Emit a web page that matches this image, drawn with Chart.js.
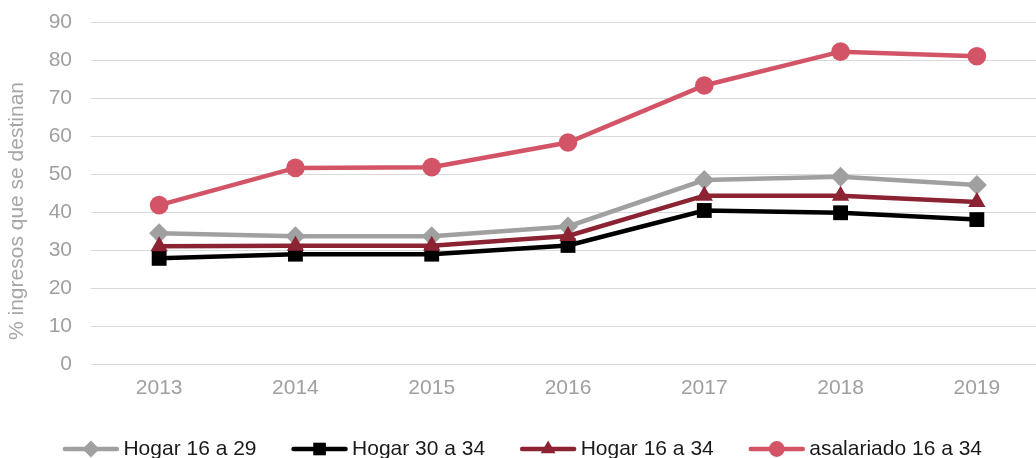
<!DOCTYPE html>
<html>
<head>
<meta charset="utf-8">
<script src="https://cdn.jsdelivr.net/npm/chart.js@4"></script>
<style>
  html, body { margin: 0; padding: 0; background: #ffffff; overflow: hidden; width: 1036px; height: 458px; }
  #wrap { position: relative; width: 1045px; height: 458px; }
</style>
</head>
<body>
<div id="wrap"><canvas id="c"></canvas></div>
<script>
const years = ['2013', '2014', '2015', '2016', '2017', '2018', '2019'];
const hogar1629 = [34.4, 33.6, 33.6, 36.2, 48.4, 49.3, 47.1];
const hogar3034 = [27.8, 28.9, 28.9, 31.2, 40.4, 39.8, 38.0];
const hogar1634 = [31.0, 31.1, 31.1, 33.7, 44.3, 44.3, 42.6];
const asalariado = [41.8, 51.6, 51.8, 58.3, 73.3, 82.2, 81.0];
const seriesNames = ['Hogar 16 a 29', 'Hogar 30 a 34', 'Hogar 16 a 34', 'asalariado 16 a 34'];
const seriesColors = ['#A0A0A0', '#000000', '#8B2333', '#D35466'];
const seriesShapes = ['rectRot', 'rect', 'triangle', 'circle'];
const seriesRadius = [10, 10.5, 10, 9.3];
const yTitle = '% ingresos que se destinan';

const FONT = "'Liberation Sans', Arial, sans-serif";

function drawShape(ctx, shape, x, y, r, color) {
  ctx.save();
  ctx.fillStyle = color;
  ctx.beginPath();
  if (shape === 'circle') {
    ctx.arc(x, y, r, 0, Math.PI * 2);
  } else if (shape === 'rectRot') {
    ctx.moveTo(x - r, y); ctx.lineTo(x, y - r); ctx.lineTo(x + r, y); ctx.lineTo(x, y + r);
  } else if (shape === 'rect') {
    const s = r * Math.SQRT1_2;
    ctx.rect(x - s, y - s, 2 * s, 2 * s);
  } else if (shape === 'triangle') {
    ctx.moveTo(x, y - r);
    ctx.lineTo(x + r * Math.sin(2 * Math.PI / 3), y - r * Math.cos(2 * Math.PI / 3));
    ctx.lineTo(x + r * Math.sin(4 * Math.PI / 3), y - r * Math.cos(4 * Math.PI / 3));
  }
  ctx.closePath();
  ctx.fill();
  ctx.restore();
}

const legendMarkers = {
  id: 'legendMarkers',
  afterDraw(chart) {
    const lg = chart.legend;
    if (!lg || !lg.legendHitBoxes) return;
    const ctx = chart.ctx;
    lg.legendHitBoxes.forEach((hb, i) => {
      const y = hb.top + hb.height / 2;
      ctx.save();
      ctx.strokeStyle = seriesColors[i];
      ctx.lineWidth = 4.5;
      ctx.lineCap = 'round';
      ctx.beginPath();
      ctx.moveTo(hb.left + 2, y);
      ctx.lineTo(hb.left + 54, y);
      ctx.stroke();
      ctx.restore();
      drawShape(ctx, seriesShapes[i], hb.left + 28, y, seriesRadius[i] * 0.85, seriesColors[i]);
    });
  }
};

const yTitlePlugin = {
  id: 'yTitlePlugin',
  afterDraw(chart) {
    const ctx = chart.ctx;
    ctx.save();
    ctx.translate(17.5, 211);
    ctx.rotate(-Math.PI / 2);
    ctx.textAlign = 'center';
    ctx.textBaseline = 'middle';
    ctx.font = '21px ' + FONT;
    ctx.fillStyle = '#A6A6A6';
    ctx.fillText(yTitle, 0, 0);
    ctx.restore();
  }
};

const datasets = seriesNames.map((name, i) => ({
  label: name,
  data: [hogar1629, hogar3034, hogar1634, asalariado][i],
  borderColor: seriesColors[i],
  backgroundColor: seriesColors[i],
  borderWidth: 4.5,
  pointStyle: seriesShapes[i],
  pointRadius: seriesRadius[i],
  pointHoverRadius: seriesRadius[i],
  pointBorderWidth: 0,
  pointBackgroundColor: seriesColors[i],
  tension: 0,
  clip: false,
  order: 4 - i
}));

new Chart(document.getElementById('c'), {
  type: 'line',
  data: { labels: years, datasets },
  options: {
    responsive: true,
    maintainAspectRatio: false,
    animation: false,
    devicePixelRatio: 1,
    layout: { autoPadding: false, padding: { top: 22, left: 0, right: 0, bottom: -11.5 } },
    plugins: {
      tooltip: { enabled: false },
      title: { display: false },
      legend: {
        position: 'bottom',
        labels: {
          font: { family: FONT, size: 21 },
          color: '#1A1A1A',
          boxWidth: 50,
          boxHeight: 4,
          padding: 35,
          generateLabels(chart) {
            return chart.data.datasets.map((ds, i) => ({
              text: ds.label,
              fillStyle: 'rgba(0,0,0,0)',
              strokeStyle: 'rgba(0,0,0,0)',
              lineWidth: 0,
              hidden: false,
              datasetIndex: i,
              fontColor: '#1A1A1A'
            }));
          }
        }
      }
    },
    scales: {
      x: {
        offset: true,
        grid: { display: false, drawTicks: false },
        border: { display: false },
        ticks: { font: { family: FONT, size: 21 }, color: '#A0A0A0', padding: 12, maxRotation: 0 },
        afterFit(scale) {
          scale.height = 39.5;
          scale.paddingLeft = 0; scale.paddingRight = 0;
          scale.paddingTop = 0; scale.paddingBottom = 0;
        }
      },
      y: {
        min: 0,
        max: 90,
        ticks: { stepSize: 10, font: { family: FONT, size: 21 }, color: '#A0A0A0', padding: 19 },
        grid: { color: '#D9D9D9', lineWidth: 1, drawTicks: false },
        border: { display: false },
        afterFit(scale) {
          scale.width = 91;
          scale.paddingLeft = 0; scale.paddingRight = 0;
          scale.paddingTop = 0; scale.paddingBottom = 0;
        }
      }
    }
  },
  plugins: [legendMarkers, yTitlePlugin]
});
</script>
</body>
</html>
